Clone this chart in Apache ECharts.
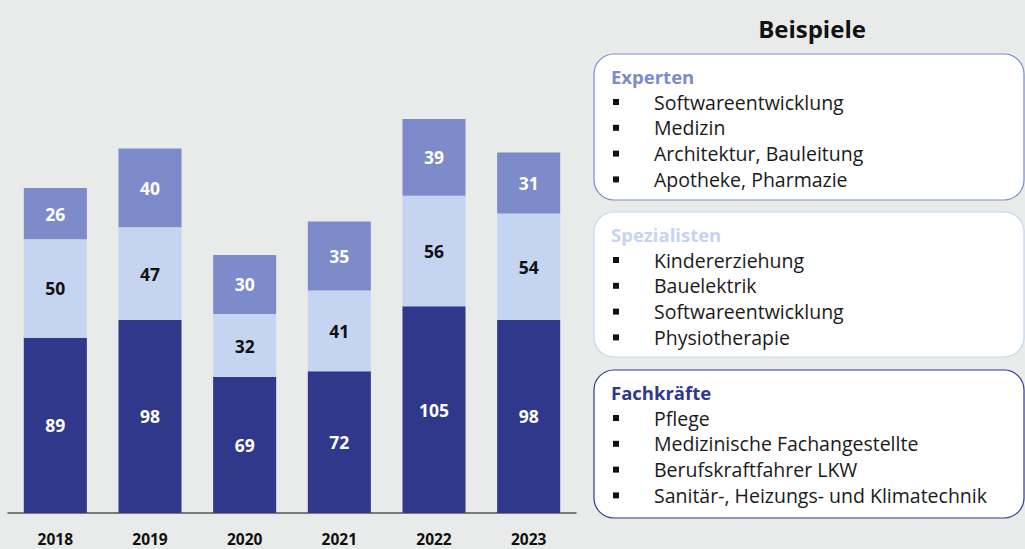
<!DOCTYPE html>
<html>
<head>
<meta charset="utf-8">
<script src="https://cdn.jsdelivr.net/npm/echarts@6/dist/echarts.min.js"></script>
<style>
  html, body { margin: 0; padding: 0; background: #e9eaea; }
  #chart { width: 1025px; height: 549px; }
</style>
</head>
<body>
<div id="chart"></div>
<script>
const years = ['2018', '2019', '2020', '2021', '2022', '2023']
const fachkraefte = [89, 98, 69, 72, 105, 98]
const spezialisten = [50, 47, 32, 41, 56, 54]
const experten = [26, 40, 30, 35, 39, 31]

const panelTitle = 'Beispiele'
const groupTitles = ['Experten', 'Spezialisten', 'Fachkräfte']
const groupItems = [
    ['Softwareentwicklung', 'Medizin', 'Architektur, Bauleitung', 'Apotheke, Pharmazie'],
    ['Kindererziehung', 'Bauelektrik', 'Softwareentwicklung', 'Physiotherapie'],
    ['Pflege', 'Medizinische Fachangestellte', 'Berufskraftfahrer LKW', 'Sanitär-, Heizungs- und Klimatechnik']
]

const colors = { dark: '#30388c', light: '#c5d5f1', mid: '#7d8bca' }
const font = '"Open Sans", "Segoe UI", sans-serif'

// box layout: top, height, border colour, title colour
const boxes = [
    { top: 54, height: 146, color: colors.mid, titleColor: '#7d8bca' },
    { top: 212, height: 145, color: colors.light, titleColor: '#c5d5f1' },
    { top: 370, height: 148, color: colors.dark, titleColor: '#30388c' }
]

function buildPanel() {
    const els = [{
        type: 'text',
        x: 812, y: 28,
        style: { text: panelTitle, font: 'bold 24px ' + font, fill: '#111', align: 'center', verticalAlign: 'middle' }
    }]
    boxes.forEach((b, i) => {
        els.push({
            type: 'rect',
            shape: { x: 594, y: b.top, width: 430, height: b.height, r: 20 },
            style: { fill: '#fff', stroke: b.color, lineWidth: 1.2 }
        })
        els.push({
            type: 'text',
            x: 611, y: b.top + 22,
            style: { text: groupTitles[i], font: 'bold 18.5px ' + font, fill: b.titleColor, verticalAlign: 'middle' }
        })
        groupItems[i].forEach((t, j) => {
            const y = b.top + 48 + j * 25.8
            els.push({
                type: 'rect',
                shape: { x: 613, y: y - 3, width: 6, height: 6 },
                style: { fill: '#111' }
            })
            els.push({
                type: 'text',
                x: 654, y: y,
                style: { text: t, font: '19.5px ' + font, fill: '#1a1a1a', verticalAlign: 'middle' }
            })
        })
    })
    return els
}

function seriesOf(name, data, color, labelColor) {
    return {
        name: name,
        type: 'bar',
        stack: 'total',
        barWidth: '66.6%',
        data: data,
        itemStyle: { color: color },
        label: {
            show: true,
            position: 'inside',
            color: labelColor,
            fontFamily: font,
            fontWeight: 'bold',
            fontSize: 17.5
        },
        emphasis: { disabled: true }
    }
}

const chart = echarts.init(document.getElementById('chart'), null, { renderer: 'svg' })
chart.setOption({
    backgroundColor: '#e9eaea',
    animation: false,
    grid: { left: 8, right: 449, top: 119, bottom: 36 },
    xAxis: {
        type: 'category',
        data: years,
        axisLine: { lineStyle: { color: '#555', width: 1.5 } },
        axisTick: { show: false },
        axisLabel: { color: '#111', fontFamily: font, fontWeight: 'bold', fontSize: 15.5, margin: 18 }
    },
    yAxis: {
        type: 'value',
        min: 0,
        max: 200,
        show: false
    },
    series: [
        seriesOf('Fachkräfte', fachkraefte, colors.dark, '#fff'),
        seriesOf('Spezialisten', spezialisten, colors.light, '#111'),
        seriesOf('Experten', experten, colors.mid, '#fff')
    ],
    graphic: buildPanel()
})
</script>
</body>
</html>
